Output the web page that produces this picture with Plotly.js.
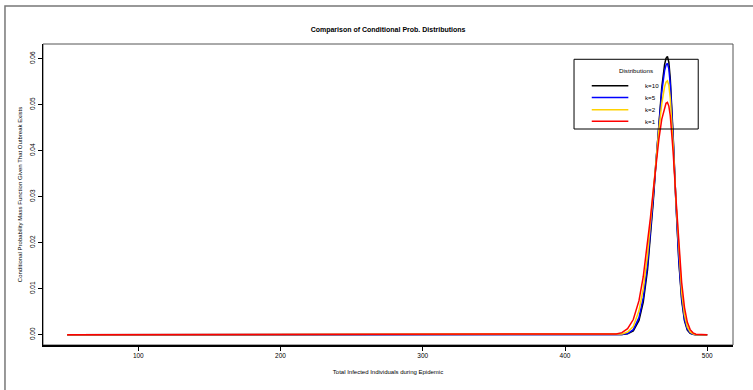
<!DOCTYPE html>
<html>
<head>
<meta charset="utf-8">
<script src="https://cdn.plot.ly/plotly-3.0.1.min.js"></script>
<style>html,body{margin:0;padding:0;background:#fff;}#chart{width:753px;height:390px;}</style>
</head>
<body>
<div id="chart"></div>
<script>
// Total infected individuals (x values); curves are flat at 0 below 430
const infected = [50, 420, 432, 436, 440, 444, 448, 452, 455, 458, 460, 462, 464, 466, 468, 470, 471, 472, 473, 474, 475, 476, 478, 480, 482, 484, 486, 488, 490, 492, 496, 500];
const pmfK10 = [0, 0, 0, 0, 0.00003, 0.00018, 0.00084, 0.0031, 0.0071, 0.0141, 0.0207, 0.0288, 0.0376, 0.0463, 0.0537, 0.0587, 0.0601, 0.0605, 0.0592, 0.0557, 0.0502, 0.0434, 0.0286, 0.0160, 0.0075, 0.0030, 0.0010, 0.0003, 0.0001, 0, 0, 0];
const pmfK5  = [0, 0, 0, 0.00001, 0.00005, 0.00026, 0.0011, 0.0037, 0.0080, 0.0152, 0.0218, 0.0295, 0.0379, 0.0460, 0.0528, 0.0574, 0.0586, 0.0590, 0.0578, 0.0545, 0.0493, 0.0428, 0.0287, 0.0164, 0.0080, 0.0033, 0.0012, 0.0004, 0.0001, 0, 0, 0];
const pmfK2  = [0, 0, 0.00002, 0.00006, 0.00016, 0.00058, 0.0018, 0.0052, 0.0100, 0.0173, 0.0236, 0.0306, 0.0378, 0.0446, 0.0502, 0.0539, 0.0549, 0.0552, 0.0542, 0.0514, 0.0470, 0.0415, 0.0291, 0.0177, 0.0093, 0.0043, 0.0017, 0.0006, 0.0002, 0, 0, 0];
const pmfK1  = [0, 0, 0.00006, 0.00016, 0.00045, 0.0013, 0.0033, 0.0074, 0.0126, 0.0197, 0.0253, 0.0312, 0.0371, 0.0425, 0.0468, 0.0495, 0.0503, 0.0505, 0.0497, 0.0476, 0.0442, 0.0398, 0.0296, 0.0195, 0.0114, 0.0059, 0.0027, 0.0011, 0.0004, 0.0001, 0, 0];
const seriesNames = ["k=10", "k=5", "k=2", "k=1"];
const seriesColors = ["#000000", "#0000ff", "#ffd200", "#ff0000"];
const xTicks = [100, 200, 300, 400, 500];
const yTicks = [0, 0.01, 0.02, 0.03, 0.04, 0.05, 0.06];

const allSeries = [pmfK10, pmfK5, pmfK2, pmfK1];
const traces = allSeries.map((ys, i) => ({
  type: "scatter", mode: "lines", x: infected, y: ys, name: seriesNames[i],
  line: {color: seriesColors[i], width: 1.5, shape: "linear"},
  showlegend: false, hoverinfo: "skip"
}));

const FONT = "Liberation Sans, Arial, Helvetica, sans-serif";

// custom legend (paper coordinates)
const L = {x0: 0.7696, x1: 0.9496, y0: 0.7176, y1: 0.9492};
const shapes = [
  {type: "rect", xref: "paper", yref: "paper", x0: -0.0551, x1: 1.2, y0: -0.3, y1: 1.1262,
   line: {color: "#777777", width: 1.5}, layer: "below"},
  {type: "rect", xref: "paper", yref: "paper", x0: 0, x1: 1, y0: 0, y1: 1,
   line: {color: "#555555", width: 1}, layer: "below"},
  {type: "rect", xref: "paper", yref: "paper", x0: L.x0, x1: L.x1, y0: L.y0, y1: L.y1,
   line: {color: "#000000", width: 1}, fillcolor: "rgba(0,0,0,0)", layer: "above"}
];
const annotations = [
  {xref: "paper", yref: "paper", x: 0.8594, y: 0.912, text: "Distributions", showarrow: false,
   font: {family: FONT, size: 6.2, color: "#000"}, xanchor: "center", yanchor: "middle"}
];
const itemY = [0.8610, 0.8225, 0.7815, 0.7430];
seriesNames.forEach((nm, i) => {
  shapes.push({type: "line", xref: "paper", yref: "paper", x0: 0.7953, x1: 0.8483, y0: itemY[i], y1: itemY[i],
    line: {color: seriesColors[i], width: 1.5}, layer: "above"});
  annotations.push({xref: "paper", yref: "paper", x: 0.8690, y: itemY[i], text: nm, showarrow: false,
    font: {family: FONT, size: 6.2, color: "#000"}, xanchor: "left", yanchor: "middle"});
});

const layout = {
  width: 753, height: 390,
  margin: {l: 43, r: 20, t: 44, b: 45, pad: 0},
  paper_bgcolor: "#ffffff", plot_bgcolor: "#ffffff",
  font: {family: FONT, color: "#000"},
  title: {text: "Comparison of Conditional Prob. Distributions", x: 0.5153, xref: "container",
    y: 0.925, yref: "container", xanchor: "center", yanchor: "middle",
    font: {family: FONT, size: 7, weight: "bold", color: "#000"}},
  xaxis: {
    range: [33.0, 518.1], tickvals: xTicks, ticktext: xTicks.map(String),
    showgrid: false, zeroline: false, showline: true, linecolor: "#000", linewidth: 1.5,
    ticks: "outside", ticklen: 4, tickwidth: 1, tickcolor: "#000",
    tickfont: {family: FONT, size: 6.5, color: "#000"},
    title: {text: "Total Infected Individuals during Epidemic", standoff: 11,
      font: {family: FONT, size: 6, color: "#000"}},
    automargin: false
  },
  yaxis: {
    range: [-0.00224, 0.0632], tickvals: yTicks, ticktext: yTicks.map(v => v.toFixed(2)),
    tickangle: -90,
    showgrid: false, zeroline: false, showline: true, linecolor: "#000", linewidth: 1.5,
    ticks: "outside", ticklen: 4, tickwidth: 1, tickcolor: "#000",
    tickfont: {family: FONT, size: 6.5, color: "#000"},
    title: {text: "Conditional Probability Mass Function Given That Outbreak Exists", standoff: 6,
      font: {family: FONT, size: 6, color: "#000"}},
    automargin: false
  },
  shapes: shapes,
  annotations: annotations,
  showlegend: false
};

Plotly.newPlot("chart", traces, layout, {staticPlot: true, displayModeBar: false});
</script>
</body>
</html>
